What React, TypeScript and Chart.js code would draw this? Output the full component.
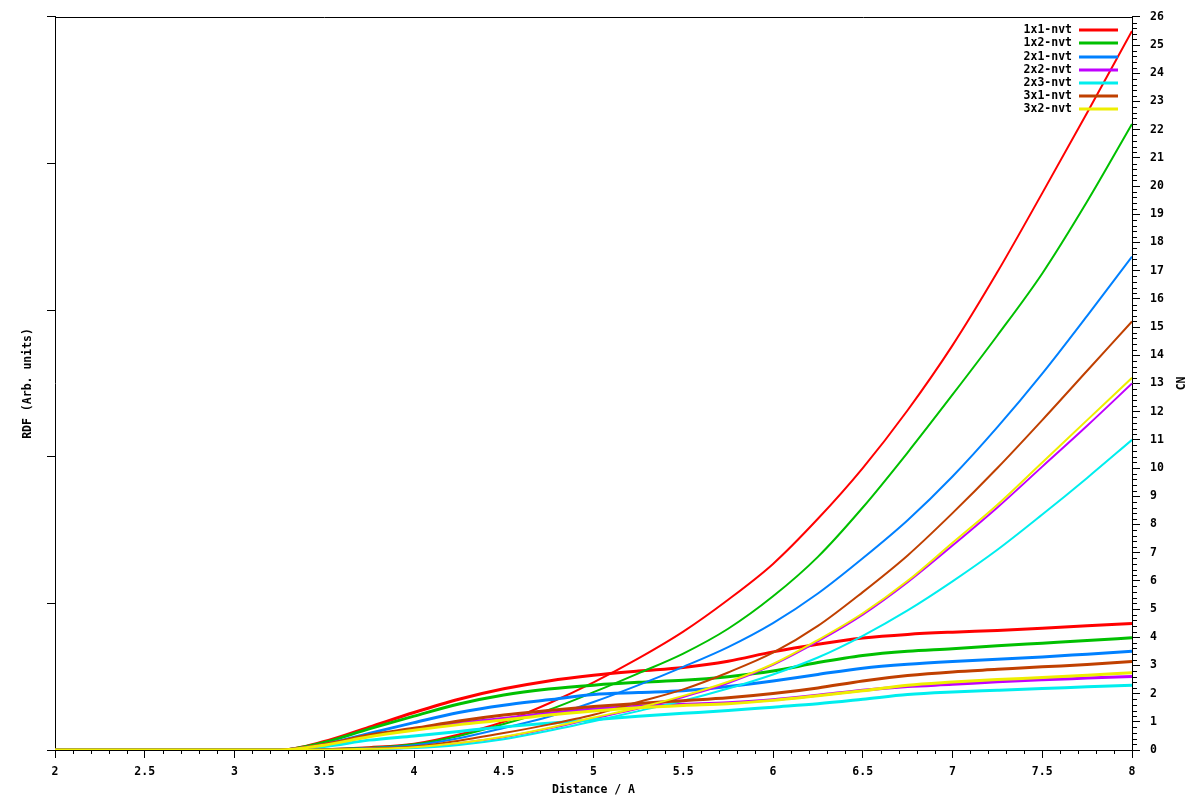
import React, { useEffect, useRef } from 'react';
import { Chart, registerables } from 'chart.js';

Chart.register(...registerables);

// ---- data ----
const distance = [2, 3.25, 3.5, 3.75, 4, 4.25, 4.5, 4.75, 5, 5.25, 5.5, 5.75, 6, 6.25, 6.5, 6.75, 7, 7.25, 7.5, 7.75, 8];

const seriesLabels = ['1x1-nvt', '1x2-nvt', '2x1-nvt', '2x2-nvt', '2x3-nvt', '3x1-nvt', '3x2-nvt'];
const seriesColors = ['#ff0000', '#00c000', '#0080ff', '#c000ff', '#00eeee', '#c04000', '#eeee00'];

// RDF curves (arbitrary units, read on the same vertical scale as CN)
const rdf1x1 = [0, 0, 0.3, 0.81, 1.33, 1.8, 2.17, 2.45, 2.65, 2.8, 2.93, 3.15, 3.48, 3.75, 3.97, 4.1, 4.18, 4.24, 4.32, 4.41, 4.49];
const rdf1x2 = [0, 0, 0.27, 0.75, 1.2, 1.63, 1.95, 2.16, 2.3, 2.4, 2.47, 2.6, 2.8, 3.1, 3.35, 3.5, 3.59, 3.7, 3.79, 3.88, 3.98];
const rdf2x1 = [0, 0, 0.2, 0.59, 0.97, 1.33, 1.59, 1.78, 1.97, 2.04, 2.1, 2.25, 2.45, 2.68, 2.9, 3.04, 3.14, 3.22, 3.3, 3.4, 3.5];
const rdf2x2 = [0, 0, 0.18, 0.5, 0.74, 0.95, 1.12, 1.3, 1.45, 1.55, 1.62, 1.68, 1.78, 1.94, 2.12, 2.25, 2.33, 2.42, 2.49, 2.55, 2.61];
const rdf2x3 = [0, 0, 0.12, 0.35, 0.5, 0.66, 0.82, 0.95, 1.07, 1.2, 1.3, 1.4, 1.52, 1.64, 1.8, 1.97, 2.06, 2.12, 2.18, 2.24, 2.3];
const rdf3x1 = [0, 0, 0.2, 0.53, 0.77, 1.03, 1.24, 1.4, 1.54, 1.65, 1.75, 1.85, 2.0, 2.2, 2.45, 2.64, 2.77, 2.86, 2.95, 3.03, 3.14];
const rdf3x2 = [0, 0, 0.17, 0.47, 0.7, 0.9, 1.06, 1.24, 1.38, 1.5, 1.58, 1.64, 1.76, 1.92, 2.1, 2.3, 2.41, 2.5, 2.57, 2.65, 2.74];

// Coordination number curves
const cn1x1 = [0, 0, 0.03, 0.1, 0.22, 0.55, 1.0, 1.65, 2.4, 3.25, 4.2, 5.33, 6.6, 8.2, 10.0, 12.05, 14.35, 16.95, 19.75, 22.6, 25.5];
const cn1x2 = [0, 0, 0.03, 0.08, 0.2, 0.5, 0.92, 1.42, 2.05, 2.72, 3.42, 4.3, 5.45, 6.85, 8.6, 10.55, 12.6, 14.7, 16.9, 19.45, 22.2];
const cn2x1 = [0, 0, 0.02, 0.07, 0.17, 0.42, 0.78, 1.18, 1.7, 2.3, 2.95, 3.65, 4.5, 5.55, 6.8, 8.15, 9.7, 11.45, 13.35, 15.4, 17.5];
const cn2x2 = [0, 0, 0.01, 0.04, 0.09, 0.24, 0.45, 0.76, 1.12, 1.47, 1.88, 2.37, 3.02, 3.85, 4.8, 5.95, 7.25, 8.6, 10.05, 11.5, 13.0];
const cn2x3 = [0, 0, 0.01, 0.03, 0.07, 0.18, 0.38, 0.68, 1.02, 1.38, 1.75, 2.18, 2.68, 3.28, 4.05, 4.95, 5.98, 7.1, 8.35, 9.65, 11.0];
const cn3x1 = [0, 0, 0.02, 0.05, 0.12, 0.33, 0.6, 0.9, 1.25, 1.7, 2.15, 2.75, 3.45, 4.4, 5.6, 6.9, 8.4, 10.0, 11.7, 13.45, 15.2];
const cn3x2 = [0, 0, 0.01, 0.04, 0.1, 0.25, 0.47, 0.78, 1.15, 1.5, 1.92, 2.42, 3.05, 3.9, 4.85, 6.0, 7.35, 8.7, 10.2, 11.7, 13.2];

const rdfSeries = [rdf1x1, rdf1x2, rdf2x1, rdf2x2, rdf2x3, rdf3x1, rdf3x2];
const cnSeries = [cn1x1, cn1x2, cn2x1, cn2x2, cn2x3, cn3x1, cn3x2];

const xTitle = 'Distance / A';
const yTitle = 'RDF (Arb. units)';
const y2Title = 'CN';
const rdfTickValues = [0, 5.2, 10.4, 15.6, 20.8, 26];

const FONT_FAMILY = "'DejaVu Sans Mono', 'Liberation Mono', monospace";
const FONT = { family: FONT_FAMILY, size: 11.5, weight: 'bold' as const };
const FONT_CSS = `bold 11.5px ${FONT_FAMILY}`;

const decorPlugin = {
  id: 'decor',
  afterDraw(chart: any) {
    const { ctx, chartArea } = chart;
    const xs = chart.scales.x;
    const y2 = chart.scales.y2;
    ctx.save();
    ctx.strokeStyle = '#000';
    ctx.lineWidth = 1;
    // top border
    ctx.beginPath();
    ctx.moveTo(chartArea.left, Math.round(chartArea.top) + 0.5);
    ctx.lineTo(chartArea.right + 1, Math.round(chartArea.top) + 0.5);
    ctx.stroke();
    // minor ticks on x
    ctx.beginPath();
    for (let i = 20; i <= 80; i++) {
      if (i % 5 === 0) continue;
      const px = Math.round(xs.getPixelForValue(i / 10)) + 0.5;
      ctx.moveTo(px, chartArea.bottom);
      ctx.lineTo(px, chartArea.bottom + 4);
    }
    // minor ticks on y2
    for (let i = 0; i <= 130; i++) {
      if (i % 5 === 0) continue;
      const py = Math.round(y2.getPixelForValue(i / 5)) + 0.5;
      ctx.moveTo(chartArea.right, py);
      ctx.lineTo(chartArea.right + 5, py);
    }
    ctx.stroke();

    // right axis title, reading bottom to top
    ctx.fillStyle = '#000';
    ctx.font = FONT_CSS;
    ctx.textAlign = 'center';
    ctx.textBaseline = 'middle';
    ctx.save();
    ctx.translate(chartArea.right + 50, (chartArea.top + chartArea.bottom) / 2);
    ctx.rotate(-Math.PI / 2);
    ctx.fillText(y2Title, 0, 0);
    ctx.restore();

    // legend
    ctx.textAlign = 'right';
    seriesLabels.forEach((label, i) => {
      const y = chartArea.top + 13.5 + i * 13.07;
      ctx.fillStyle = '#000';
      ctx.fillText(label, chartArea.right - 60, y);
      ctx.strokeStyle = seriesColors[i];
      ctx.lineWidth = 3;
      ctx.beginPath();
      ctx.moveTo(chartArea.right - 53, Math.round(y));
      ctx.lineTo(chartArea.right - 14, Math.round(y));
      ctx.stroke();
    });
    ctx.restore();
  },
};

export default function App() {
  const canvasRef = useRef<HTMLCanvasElement | null>(null);

  useEffect(() => {
    if (!canvasRef.current) return;
    const datasets: any[] = [];
    seriesLabels.forEach((label, i) => {
      datasets.push({
        label,
        data: distance.map((x, j) => ({ x, y: rdfSeries[i][j] })),
        yAxisID: 'y',
        borderColor: seriesColors[i],
        backgroundColor: seriesColors[i],
        borderWidth: 3,
        pointRadius: 0,
        fill: false,
        cubicInterpolationMode: 'monotone',
      });
      datasets.push({
        label: label + ' CN',
        data: distance.map((x, j) => ({ x, y: cnSeries[i][j] })),
        yAxisID: 'y2',
        borderColor: seriesColors[i],
        backgroundColor: seriesColors[i],
        borderWidth: 2,
        pointRadius: 0,
        fill: false,
        cubicInterpolationMode: 'monotone',
      });
    });
    datasets.forEach((d, i) => {
      d.order = datasets.length - i;
    });

    const chart = new Chart(canvasRef.current, {
      type: 'line',
      data: { datasets },
      plugins: [decorPlugin],
      options: {
        responsive: false,
        animation: false,
        layout: { padding: { top: 14, left: 0, right: 0, bottom: 0 } },
        plugins: {
          legend: { display: false },
          tooltip: { enabled: false },
        },
        elements: { point: { radius: 0 } },
        scales: {
          x: {
            type: 'linear',
            position: 'bottom',
            min: 2,
            max: 8,
            ticks: {
              stepSize: 0.5,
              color: '#000',
              font: FONT,
              padding: 7,
              maxRotation: 0,
              autoSkip: false,
              callback: (v: any) => String(Number(v)),
            },
            grid: { drawOnChartArea: false, tickLength: 8, color: '#000' },
            border: { color: '#000', width: 1 },
            title: { display: true, text: xTitle, color: '#000', font: FONT, padding: { top: 0, bottom: 3 } },
            afterFit: (s: any) => {
              s.height = 50;
            },
          },
          y: {
            type: 'linear',
            position: 'left',
            min: 0,
            max: 26,
            afterBuildTicks: (s: any) => {
              s.ticks = rdfTickValues.map((v) => ({ value: v }));
            },
            ticks: { callback: () => '', font: FONT, padding: 0 },
            grid: { drawOnChartArea: false, tickLength: 8, color: '#000' },
            border: { color: '#000', width: 1 },
            title: { display: true, text: yTitle, color: '#000', font: FONT, padding: { top: 21, bottom: 0 } },
            afterFit: (s: any) => {
              s.width = 55;
            },
          },
          y2: {
            type: 'linear',
            position: 'right',
            min: 0,
            max: 26,
            ticks: { stepSize: 1, color: '#000', font: FONT, padding: 10, autoSkip: false },
            grid: { drawOnChartArea: false, tickLength: 8, color: '#000' },
            border: { color: '#000', width: 1 },
            afterFit: (s: any) => {
              s.width = 68;
            },
          },
        },
      } as any,
    });
    return () => chart.destroy();
  }, []);

  return (
    <div style={{ position: 'absolute', left: 0, top: 0, width: 1200, height: 800, background: '#fff' }}>
      <canvas ref={canvasRef} width={1200} height={800} style={{ display: 'block' }} />
    </div>
  );
}
